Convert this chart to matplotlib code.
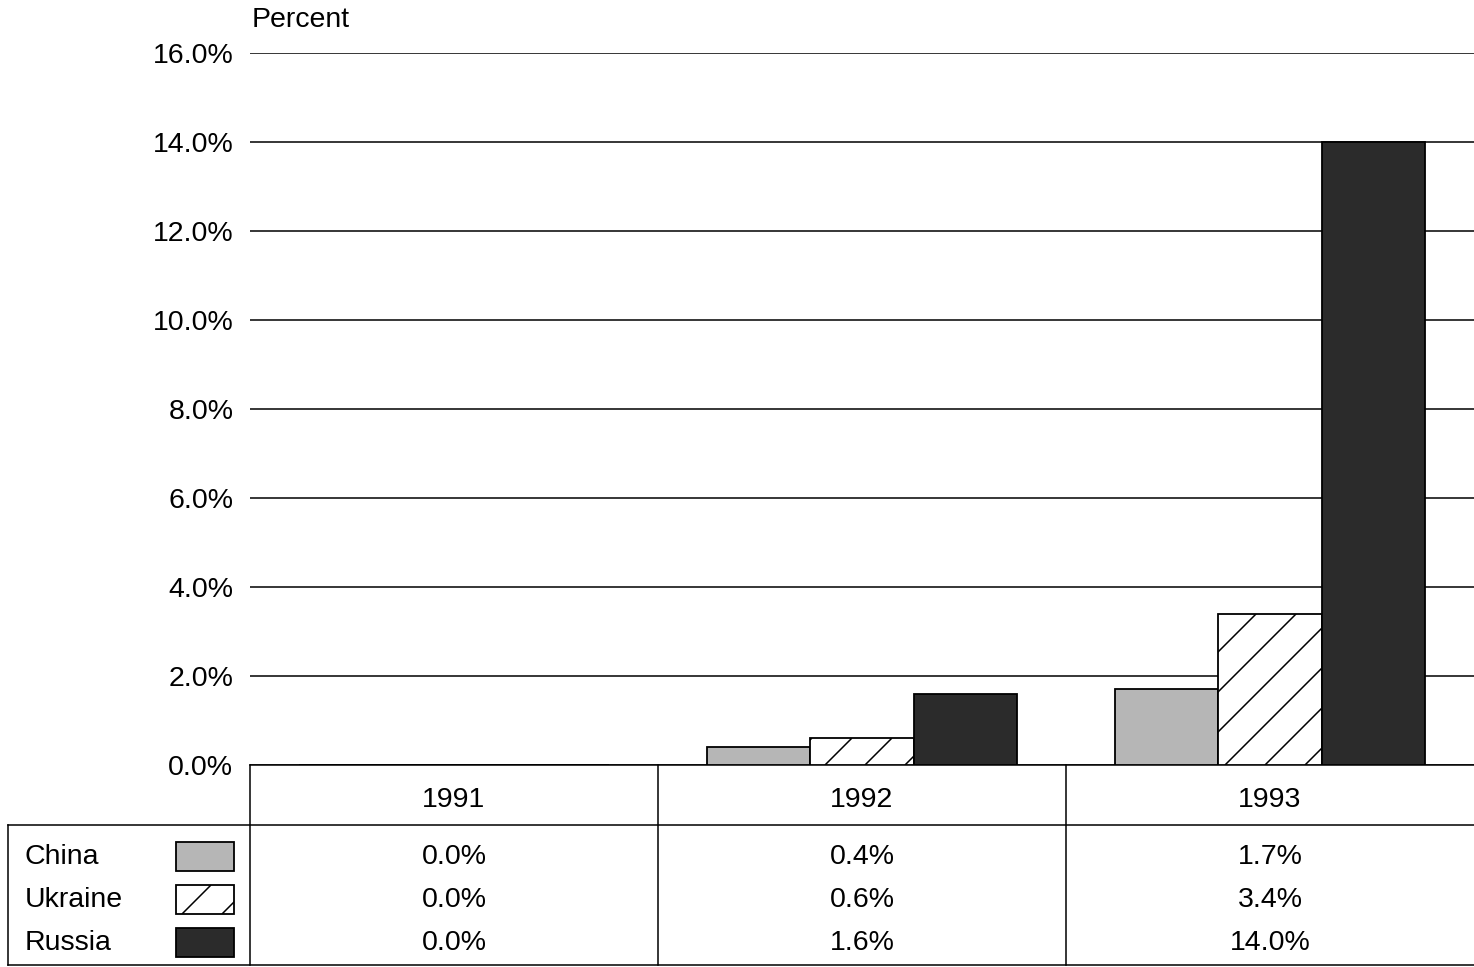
import matplotlib
matplotlib.use("Agg")
import matplotlib.pyplot as plt
from matplotlib.patches import Rectangle
from matplotlib.collections import LineCollection
from matplotlib.transforms import blended_transform_factory, IdentityTransform
import numpy as np

years = ["1991", "1992", "1993"]
countries = ["China", "Ukraine", "Russia"]
china = [0.0, 0.4, 1.7]
ukraine = [0.0, 0.6, 3.4]
russia = [0.0, 1.6, 14.0]
yticks = [0, 2, 4, 6, 8, 10, 12, 14, 16]

W, H = 1474, 967
plt.rcParams['font.family'] = ['Liberation Sans', 'DejaVu Sans']
FS = 20.5

fig = plt.figure(figsize=(W / 100, H / 100), dpi=100)


def fx(px):
    return px / W


def fy(py):
    return 1 - py / H


def diag_hatch(patch, step=40, phase=623):
    # sparse 45 degree hatching, clipped to the patch
    x0, y0, x1, y1 = patch.get_window_extent().extents
    segs = []
    k0 = int(np.floor((x0 - y1 - phase) / step))
    k1 = int(np.ceil((x1 - y0 - phase) / step))
    for k in range(k0, k1 + 1):
        c = phase + k * step
        segs.append([(y0 + c, y0), (y1 + c, y1)])
    lc = LineCollection(segs, colors='black', linewidths=1.1,
                        transform=IdentityTransform(), zorder=5)
    lc.set_clip_path(patch)
    fig.add_artist(lc)


ax = fig.add_axes([fx(250), fy(765), 1 - fx(250), fy(53) - fy(765)])

series = [china, ukraine, russia]
faces = ['#b6b6b6', 'white', '#2b2b2b']
bw = 0.253
x = np.arange(len(years)) + 0.5
bar_groups = []
for i, (vals, fc) in enumerate(zip(series, faces)):
    b = ax.bar(x + (i - 1) * bw, vals, bw, facecolor=fc, edgecolor='black',
               linewidth=1.3, zorder=3)
    bar_groups.append(b)

ax.set_xlim(0, 3)
ax.set_ylim(0, 16)
ax.set_yticks(yticks)
ax.set_yticklabels(['%.1f%%' % v for v in yticks])
ax.set_xticks([])
ax.tick_params(axis='y', length=0, pad=12, labelsize=FS)
ax.set_axisbelow(True)
ax.yaxis.grid(True, color='black', linewidth=1.1)
for s in ['left', 'right', 'top']:
    ax.spines[s].set_visible(False)
ax.spines['bottom'].set_linewidth(1.1)

for rect in bar_groups[1]:
    if rect.get_height() > 0:
        diag_hatch(rect)

fig.text(fx(252), fy(20), 'Percent', fontsize=FS, ha='left', va='center')

# data table under the plot
bt = blended_transform_factory(ax.transData, fig.transFigure)
lw = 1.1
fig.add_artist(plt.Line2D([fx(8), 1], [fy(825), fy(825)], color='black', lw=lw))
fig.add_artist(plt.Line2D([fx(8), 1], [fy(965), fy(965)], color='black', lw=lw))
fig.add_artist(plt.Line2D([fx(8), fx(8)], [fy(825), fy(965)], color='black', lw=lw))
for xb in range(len(years)):
    fig.add_artist(plt.Line2D([xb, xb], [fy(765), fy(965)], color='black', lw=lw,
                              transform=bt))

for xi, yr in zip(x, years):
    fig.text(xi, fy(800), yr, transform=bt, fontsize=FS, ha='center', va='center')

row_y = [857, 900, 943]
for vals, name, ry, fc in zip(series, countries, row_y, faces):
    fig.text(fx(25), fy(ry), name, fontsize=FS, ha='left', va='center')
    sw = Rectangle((fx(176), fy(ry + 14)), fx(58), 29 / H, facecolor=fc,
                   edgecolor='black', linewidth=1.3, transform=fig.transFigure)
    fig.add_artist(sw)
    if fc == 'white':
        diag_hatch(sw, phase=623 - 14)
    for xi, v in zip(x, vals):
        fig.text(xi, fy(ry), '%.1f%%' % v, transform=bt, fontsize=FS,
                 ha='center', va='center')

fig.savefig('out.png', dpi=100)
